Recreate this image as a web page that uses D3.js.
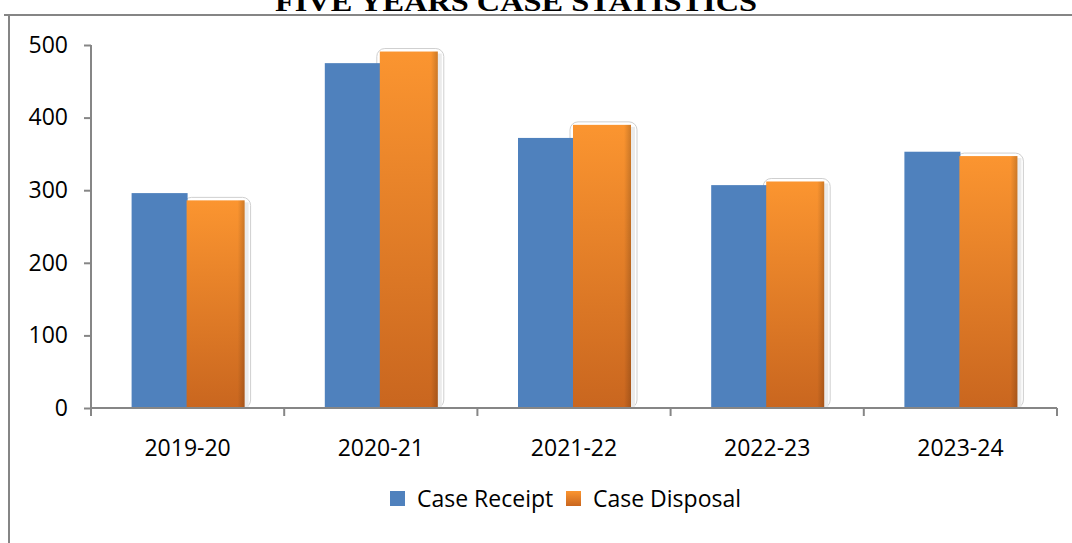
<!DOCTYPE html>
<html>
<head>
<meta charset="utf-8">
<script src="https://cdn.jsdelivr.net/npm/d3@7"></script>
<style>
  body { margin: 0; background: #fff; }
  svg { display: block; }
  .tick text { font-family: "Open Sans", sans-serif; font-size: 23px; fill: #000; }
</style>
</head>
<body>
<svg id="chart" width="1072" height="543"></svg>
<script>
// --- Data ---
var years = ["2019-20", "2020-21", "2021-22", "2022-23", "2023-24"];
var seriesNames = ["Case Receipt", "Case Disposal"];
var receipts = [296, 475, 372, 307, 353];
var disposals = [286, 491, 390, 312, 347];
var yTicks = [0, 100, 200, 300, 400, 500];

// --- Layout ---
var width = 1072, height = 543;
var plotLeft = 91, plotRight = 1057, plotTop = 45, plotBottom = 408;
var barGroup = 112;

var svg = d3.select("#chart");

var defs = svg.append("defs");
var grad = defs.append("linearGradient")
  .attr("id", "orangeGrad")
  .attr("x1", 0).attr("y1", 0).attr("x2", 0).attr("y2", 1);
grad.append("stop").attr("offset", "0%").attr("stop-color", "#fb9530");
grad.append("stop").attr("offset", "100%").attr("stop-color", "#c9661f");

var sideGrad = defs.append("linearGradient")
  .attr("id", "edgeGrad")
  .attr("x1", 0).attr("y1", 0).attr("x2", 1).attr("y2", 0);
sideGrad.append("stop").attr("offset", "0%").attr("stop-color", "#000").attr("stop-opacity", 0);
sideGrad.append("stop").attr("offset", "88%").attr("stop-color", "#000").attr("stop-opacity", 0);
sideGrad.append("stop").attr("offset", "100%").attr("stop-color", "#000").attr("stop-opacity", 0.18);

// frame
svg.append("line")
  .attr("x1", 4).attr("x2", width).attr("y1", 15).attr("y2", 15)
  .attr("stroke", "#858585").attr("stroke-width", 2);
svg.append("line")
  .attr("x1", 9).attr("x2", 9).attr("y1", 14).attr("y2", height)
  .attr("stroke", "#858585").attr("stroke-width", 2);

// title (cut off at top like the source)
svg.append("text")
  .attr("x", 516).attr("y", 11)
  .attr("text-anchor", "middle")
  .attr("font-family", "Liberation Serif, Times New Roman, serif")
  .attr("font-weight", "bold")
  .attr("font-size", 27)
  .attr("textLength", 482)
  .attr("lengthAdjust", "spacingAndGlyphs")
  .text("FIVE YEARS CASE STATISTICS");

// --- Scales ---
var x0 = d3.scaleBand().domain(years).range([plotLeft, plotRight]).padding(0);
var x1 = d3.scaleBand().domain(seriesNames).range([0, barGroup]).padding(0);
var y = d3.scaleLinear().domain([0, 500]).range([plotBottom, plotTop]);

var groupOffset = (x0.bandwidth() - barGroup) / 2;

// bars
var data = years.map(function(yr, i) {
  return { year: yr, values: [receipts[i], disposals[i]] };
});

var g = svg.selectAll("g.year")
  .data(data)
  .enter()
    .append("g")
    .attr("class", "year")
    .attr("transform", function(d) {
      return "translate(" + (x0(d.year) + groupOffset) + ",0)";
    });

// soft outline round orange bars (drawn first so the blue bar hides its left side)
g.append("rect")
  .attr("x", x1("Case Disposal") - 4)
  .attr("y", function(d) { return y(d.values[1]) - 3; })
  .attr("width", x1.bandwidth() + 11)
  .attr("height", function(d) { return y(0) - y(d.values[1]) + 3; })
  .attr("rx", 8)
  .attr("fill", "none")
  .attr("stroke", "#cfcfcf")
  .attr("stroke-width", 1);

// blue bars
g.append("rect")
  .attr("x", x1("Case Receipt"))
  .attr("y", function(d) { return y(d.values[0]); })
  .attr("width", x1.bandwidth())
  .attr("height", function(d) { return y(0) - y(d.values[0]); })
  .attr("fill", "#4f81bd");

g.append("rect")
  .attr("x", x1("Case Disposal") + x1.bandwidth())
  .attr("y", function(d) { return y(d.values[1]) + 2; })
  .attr("width", 5)
  .attr("height", function(d) { return y(0) - y(d.values[1]) - 2; })
  .attr("fill", "#ebebeb");

g.append("rect")
  .attr("x", x1("Case Disposal") - 1)
  .attr("y", function(d) { return y(d.values[1]); })
  .attr("width", x1.bandwidth() + 2)
  .attr("height", function(d) { return y(0) - y(d.values[1]); })
  .attr("fill", "url(#orangeGrad)");

g.append("rect")
  .attr("x", x1("Case Disposal") - 1)
  .attr("y", function(d) { return y(d.values[1]); })
  .attr("width", x1.bandwidth() + 2)
  .attr("height", function(d) { return y(0) - y(d.values[1]); })
  .attr("fill", "url(#edgeGrad)");

// --- Axes ---
var yAxis = d3.axisLeft(y).tickValues(yTicks).tickSize(7).tickPadding(16).tickFormat(d3.format("d"));
var ya = svg.append("g")
  .attr("transform", "translate(" + plotLeft + ",0)")
  .call(yAxis);
ya.select(".domain").attr("stroke", "#868686").attr("stroke-width", 2).attr("d", "M0," + plotTop + "V" + plotBottom);
ya.selectAll(".tick line").attr("stroke", "#868686").attr("stroke-width", 2);

var xAxis = d3.axisBottom(x0).tickSize(0).tickPadding(32);
var xa = svg.append("g")
  .attr("transform", "translate(0," + plotBottom + ")")
  .call(xAxis);
xa.select(".domain").attr("stroke", "#868686").attr("stroke-width", 2).attr("d", "M" + plotLeft + ",0H" + plotRight);

// category boundary ticks
var bounds = years.map(function(d) { return x0(d); }).concat([plotRight]);
xa.selectAll("line.bound")
  .data(bounds)
  .enter()
    .append("line")
    .attr("class", "bound")
    .attr("x1", function(d) { return d; })
    .attr("x2", function(d) { return d; })
    .attr("y1", 0).attr("y2", 8)
    .attr("stroke", "#868686").attr("stroke-width", 2);

// --- Legend ---
var legend = svg.append("g").attr("font-family", "Open Sans, sans-serif").attr("font-size", 23);
var legendItems = [
  { name: "Case Receipt", x: 390, fill: "#4f81bd" },
  { name: "Case Disposal", x: 566, fill: "url(#orangeGrad)" }
];
var li = legend.selectAll("g")
  .data(legendItems)
  .enter()
    .append("g")
    .attr("transform", function(d) { return "translate(" + d.x + ",491)"; });
li.append("rect")
  .attr("width", 15).attr("height", 15)
  .attr("fill", function(d) { return d.fill; });
li.append("text")
  .attr("x", 27).attr("y", 7.5)
  .attr("dy", "0.35em")
  .text(function(d) { return d.name; });
</script>
</body>
</html>
